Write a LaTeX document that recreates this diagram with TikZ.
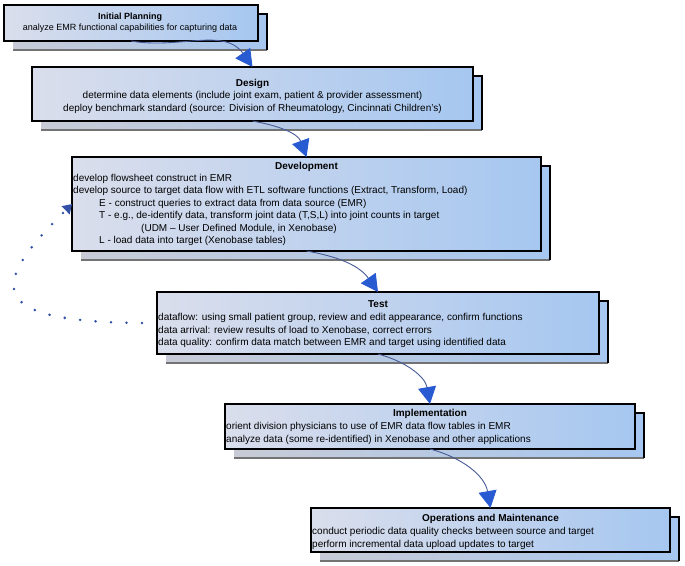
\documentclass[tikz,border=0pt]{standalone}
\usepackage{fontspec}
\setmainfont{Liberation Sans}
\usetikzlibrary{arrows.meta,calc}
\definecolor{boxL}{RGB}{218,222,236}
\definecolor{boxM}{RGB}{190,208,240}
\definecolor{boxR}{RGB}{166,199,240}
\definecolor{arrline}{RGB}{70,90,150}
\definecolor{arrhead}{RGB}{40,90,210}
\definecolor{dotc}{RGB}{50,80,165}
\tikzset{
  stagebox/.style={draw=black, line width=1.5pt, left color=boxL, middle color=boxM, right color=boxR, inner sep=0pt, outer sep=0pt},
  shadowbox/.style={left color=boxL!80!gray, middle color=boxM, right color=boxR, inner sep=0pt, outer sep=0pt},
  shadowedge/.style={draw=black, line width=1.5pt},
  shadowbottom/.style={draw=black!55, line width=1.3pt},
  flowarrow/.style={draw=arrline, line width=0.9pt, -{Triangle[length=17pt,width=18pt,color=arrhead]}},
  dotline/.style={draw=dotc, line width=2.8pt, line cap=round, dash pattern=on 0pt off 15.5pt, dash phase=0.5pt, -{Triangle[length=9pt,width=11pt,color=dotc]}},
  txt/.style={font=\fontsize{10}{12.5}\selectfont, inner sep=0pt, anchor=base},
  ttl/.style={font=\fontsize{10}{12.5}\selectfont\bfseries, inner sep=0pt, anchor=base},
  smalltxt/.style={font=\fontsize{9}{11}\selectfont, inner sep=0pt, anchor=base},
  smallttl/.style={font=\fontsize{9}{11}\selectfont\bfseries, inner sep=0pt, anchor=base},
  bodyl/.style={font=\fontsize{10}{12.5}\selectfont, inner sep=0pt, anchor=base west, align=left},
}
\begin{document}
\begin{tikzpicture}[x=1pt,y=1pt]
\fill[white] (0,0) rectangle (685,-565);
\useasboundingbox (0,0) rectangle (685,-565);

% shadows
\node[shadowbox, minimum width=254pt, minimum height=36pt] (ips) at (140,-32) {};
\node[shadowbox, minimum width=441pt, minimum height=54pt] (dss) at (261.5,-103) {};
\node[shadowbox, minimum width=469pt, minimum height=94pt] (devs) at (315.5,-213) {};
\node[shadowbox, minimum width=442pt, minimum height=62pt] (tests) at (387,-332) {};
\node[shadowbox, minimum width=410pt, minimum height=45pt] (impls) at (439,-435.5) {};
\node[shadowbox, minimum width=359pt, minimum height=44pt] (opss) at (499.5,-539) {};
\foreach \s in {ips,dss,devs,tests,impls,opss}{
  \draw[shadowbottom] (\s.south west) -- (\s.south east);
  \draw[shadowedge] (\s.north west) -- (\s.north east) -- (\s.south east);
}

% front boxes
\node[stagebox, minimum width=254pt, minimum height=36pt] (ip) at (131,-23) {};
\node[stagebox, minimum width=441pt, minimum height=54pt] (ds) at (252.5,-94) {};
\node[stagebox, minimum width=469pt, minimum height=94pt] (dev) at (306.5,-204) {};
\node[stagebox, minimum width=442pt, minimum height=62pt] (test) at (378,-323) {};
\node[stagebox, minimum width=410pt, minimum height=45pt] (impl) at (430,-426.5) {};
\node[stagebox, minimum width=359pt, minimum height=44pt] (ops) at (490.5,-530) {};

% texts (multi-line nodes: base = baseline of last line)
\node[smallttl] (ipt) at (130,-19) {Initial Planning};
\node[smalltxt] (ipb) at (130,-30.5) {analyze EMR functional capabilities for capturing data};

\node[ttl] (dst) at (252.5,-86.5) {Design};
\node[txt, align=center] (dsb) at (252.5,-111) {determine data elements (include joint exam, patient \& provider assessment)\\deploy benchmark standard (source: Division of Rheumatology, Cincinnati Children's)};

\node[ttl] (devt) at (306.5,-169) {Development};
\node[bodyl] (devb) at (73,-243.5) {develop flowsheet construct in EMR\\
develop source to target data flow with ETL software functions (Extract, Transform, Load)\\
\hspace*{26pt}E - construct queries to extract data from data source (EMR)\\
\hspace*{26pt}T - e.g., de-identify data, transform joint data (T,S,L) into joint counts in target\\
\hspace*{68pt}(UDM -- User Defined Module, in Xenobase)\\
\hspace*{26pt}L - load data into target (Xenobase tables)};

\node[ttl] (testt) at (378,-307.5) {Test};
\node[bodyl] (testb) at (158,-345.5) {dataflow: using small patient group, review and edit appearance, confirm functions\\
data arrival: review results of load to Xenobase, correct errors\\
data quality: confirm data match between EMR and target using identified data};

\node[ttl] (implt) at (430,-416.5) {Implementation};
\node[bodyl] (implb) at (226,-442) {orient division physicians to use of EMR data flow tables in EMR\\
analyze data (some re-identified) in Xenobase and other applications};

\node[ttl] (opst) at (490.5,-521.5) {Operations and Maintenance};
\node[bodyl] (opsb) at (312,-547) {conduct periodic data quality checks between source and target\\
perform incremental data upload updates to target};

% arrows
\draw[flowarrow] (ip.south) to[out=-10,in=125] (ds.north);
\draw[flowarrow] (ds.south) to[out=-10,in=110] (dev.north);
\draw[flowarrow] (dev.south) to[out=-10,in=125] (test.north);
\draw[flowarrow] (test.south) to[out=-15,in=100] (impl.north);
\draw[flowarrow] (impl.south) to[out=-15,in=100] (ops.north);

% feedback loop
\draw[dotline] (test.west) .. controls (-19,-324) and (-12,-287) .. (dev.west);
\end{tikzpicture}
\end{document}
